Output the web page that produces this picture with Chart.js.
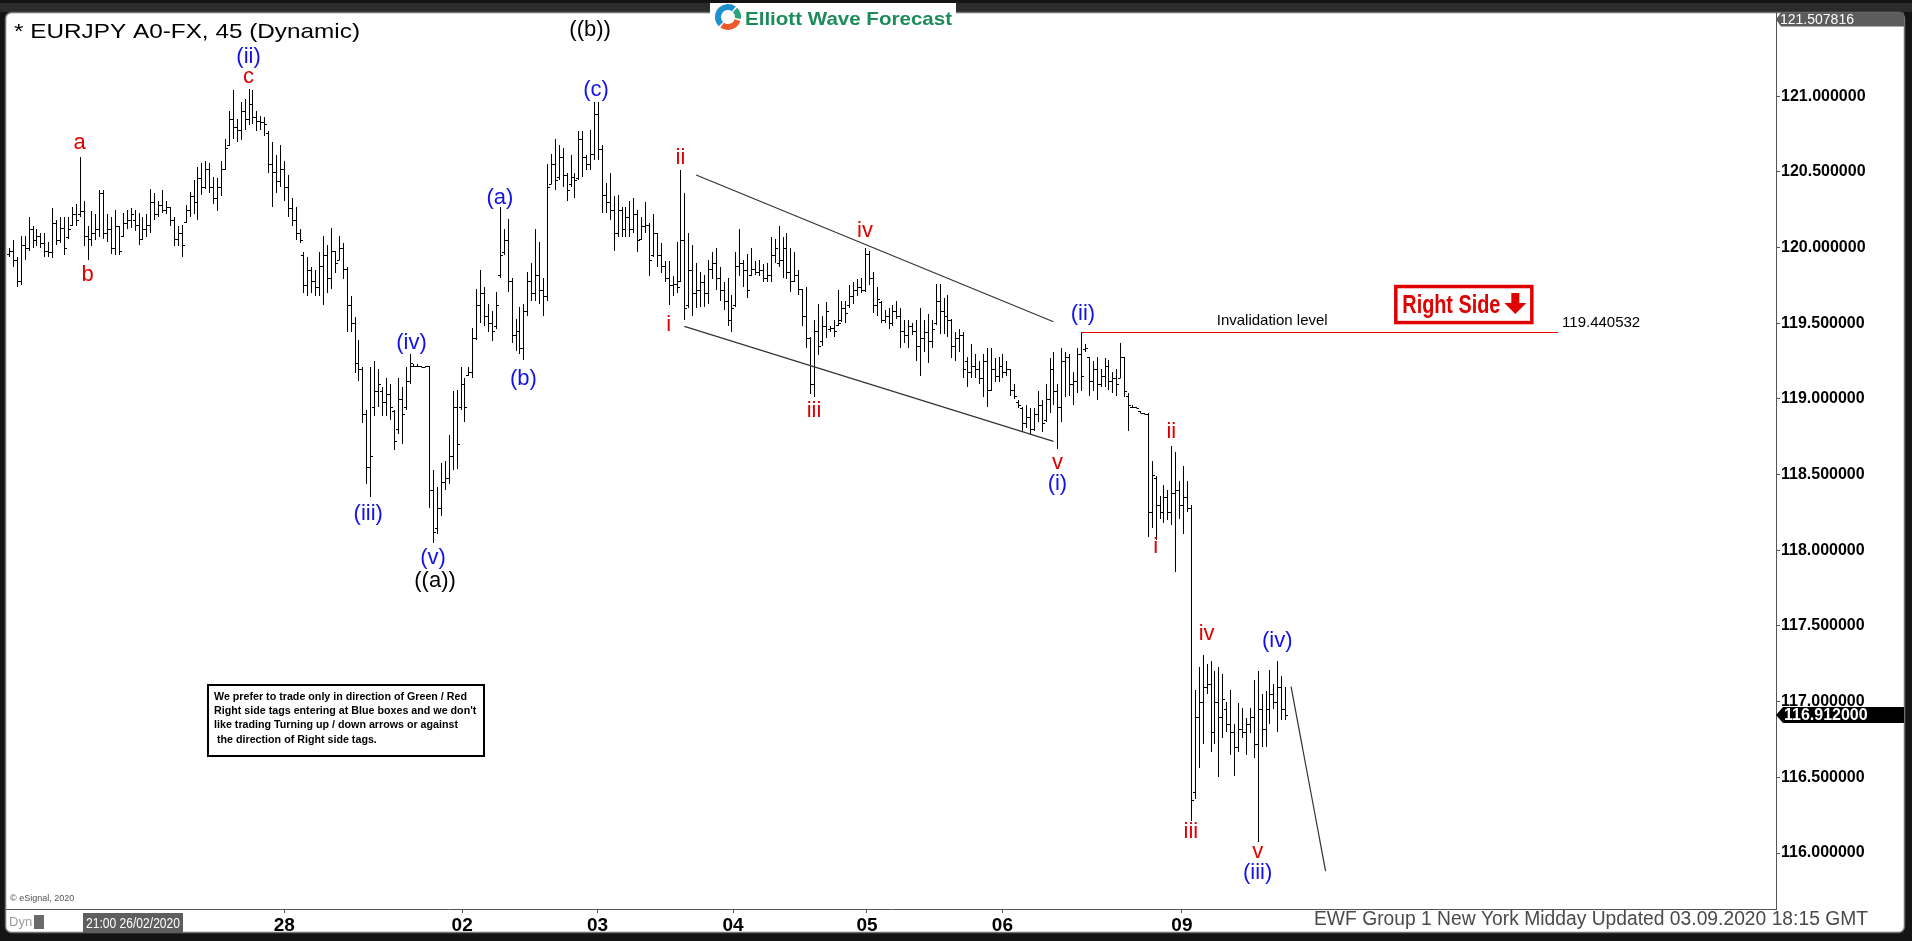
<!DOCTYPE html>
<html>
<head>
<meta charset="utf-8">
<title>EURJPY A0-FX, 45 (Dynamic)</title>
<script src="https://cdn.jsdelivr.net/npm/chart.js@4.4.1/dist/chart.umd.min.js"></script>
<style>
  html, body { margin: 0; padding: 0; background: #141414; overflow: hidden; }
  #wrap { position: relative; width: 1912px; height: 941px; }
</style>
</head>
<body>
<div id="wrap"><canvas id="chart"></canvas></div>
<script>
// 45 minute bars (one entry per bar)
const highs = [
  120.00,120.05,119.94,120.08,120.08,120.20,120.14,120.12,120.10,120.10,
  120.04,120.26,120.18,120.20,120.20,120.20,120.27,120.29,120.60,120.31,
  120.14,120.24,120.22,120.38,120.38,120.22,120.20,120.25,120.14,120.23,
  120.25,120.26,120.25,120.23,120.20,120.22,120.39,120.36,120.31,120.38,120.31,
  120.27,120.20,120.14,120.15,120.28,120.37,120.45,120.53,120.56,120.57,
  120.56,120.47,120.46,120.57,120.72,120.90,121.04,120.85,120.96,120.98,
  121.05,121.04,120.90,120.87,120.86,120.77,120.70,120.61,120.68,120.57,
  120.48,120.33,120.27,120.12,119.97,119.94,119.87,119.85,119.97,120.08,
  120.02,120.13,119.98,120.08,120.03,119.87,119.68,119.54,119.39,119.21,
  118.93,119.21,119.25,119.20,119.08,119.14,119.10,118.93,119.14,119.08,119.21,
  119.30,119.23,119.23,119.22,119.22,119.22,118.53,118.42,118.58,118.59,
  118.76,119.05,119.06,119.21,119.14,119.21,119.47,119.73,119.85,119.74,
  119.63,119.58,119.71,120.27,120.12,120.19,119.80,119.53,119.61,119.63,
  119.84,119.90,120.12,120.04,119.80,120.55,120.62,120.72,120.68,120.66,
  120.49,120.61,120.49,120.77,120.77,120.61,120.78,120.96,120.96,120.68,
  120.43,120.49,120.34,120.35,120.27,120.27,120.31,120.33,120.25,120.20,
  120.30,120.16,120.22,120.10,120.03,119.91,119.91,119.81,120.04,120.51,
  120.36,120.10,120.02,119.90,119.84,119.82,119.92,119.97,120.00,119.87,
  119.77,119.80,119.69,119.97,120.12,119.92,119.96,120.00,119.91,119.92,
  119.89,119.90,120.07,120.06,120.14,120.07,120.10,120.00,119.97,
  119.85,119.73,119.74,119.41,119.52,119.63,119.55,119.64,119.48,119.52,
  119.72,119.65,119.65,119.75,119.77,119.79,119.80,120.00,119.98,119.84,
  119.74,119.65,119.59,119.60,119.62,119.65,119.60,119.52,119.52,119.50,
  119.52,119.60,119.52,119.56,119.52,119.76,119.76,119.67,119.69,119.53,
  119.44,119.46,119.44,119.28,119.36,119.30,119.25,119.30,119.34,
  119.34,119.27,119.28,119.30,119.25,119.20,119.10,118.99,118.95,118.96,
  118.94,118.94,119.05,118.99,119.10,119.27,119.31,119.10,119.34,119.31,
  119.30,119.18,119.34,119.44,119.36,119.28,119.25,119.28,119.20,119.27,
  119.26,119.18,119.20,119.37,119.28,119.04,118.96,118.95,118.92,118.91,
  118.91,118.59,118.49,118.36,118.43,118.40,118.69,118.65,118.46,118.56,
  118.46,118.30,117.08,117.23,117.31,117.25,117.27,117.20,117.23,117.18,
  117.00,117.08,116.85,116.99,116.96,116.89,116.96,117.14,117.20,117.05,
  117.07,117.21,117.12,117.27,117.17,117.10
];
const lows = [
  119.94,119.87,119.74,119.75,119.92,119.98,120.00,120.01,120.00,119.94,
  119.94,119.93,120.02,120.03,119.95,120.06,120.14,120.14,120.20,120.01,
  119.92,120.01,120.05,120.07,120.06,120.04,119.96,119.95,119.95,120.07,
  120.12,120.13,120.11,120.02,120.05,120.07,120.10,120.18,120.20,120.23,120.22,
  120.14,120.01,120.01,119.94,120.16,120.20,120.22,120.18,120.35,120.39,
  120.36,120.29,120.24,120.34,120.51,120.67,120.72,120.70,120.71,120.78,
  120.81,120.82,120.77,120.78,120.74,120.49,120.27,120.36,120.40,120.31,
  120.20,120.14,120.05,120.03,119.70,119.68,119.70,119.68,119.68,119.62,
  119.70,119.73,119.83,119.92,119.79,119.44,119.44,119.17,119.12,118.84,
  118.44,118.35,118.89,118.95,118.89,118.89,118.86,118.66,118.77,118.70,118.93,
  119.10,119.21,119.21,119.21,119.21,118.28,118.05,118.11,118.23,118.40,
  118.44,118.53,118.54,118.93,118.85,119.15,119.14,119.39,119.50,119.48,
  119.44,119.38,119.46,119.80,119.95,119.71,119.37,119.32,119.30,119.26,
  119.55,119.65,119.65,119.63,119.55,119.65,120.42,120.38,120.45,120.40,
  120.31,120.40,120.33,120.45,120.47,120.51,120.51,120.58,120.58,120.23,
  120.23,120.18,119.98,120.07,120.07,120.07,120.07,120.10,119.97,120.05,
  120.10,119.81,119.94,119.87,119.83,119.77,119.62,119.68,119.70,119.77,
  119.52,119.60,119.55,119.60,119.61,119.61,119.63,119.79,119.72,119.65,
  119.59,119.48,119.44,119.61,119.81,119.74,119.67,119.81,119.82,119.81,
  119.77,119.77,119.77,119.90,119.87,119.80,119.79,119.71,119.77,
  119.69,119.48,119.34,119.03,119.01,119.29,119.35,119.40,119.44,119.41,
  119.48,119.51,119.50,119.60,119.63,119.68,119.70,119.71,119.75,119.57,
  119.55,119.50,119.50,119.46,119.48,119.53,119.34,119.37,119.34,119.42,
  119.25,119.15,119.31,119.24,119.34,119.49,119.43,119.43,119.41,119.27,
  119.25,119.31,119.14,119.08,119.14,119.14,119.10,119.01,118.95,
  119.05,119.11,119.11,119.14,119.15,119.02,119.00,118.94,118.79,118.81,
  118.76,118.79,118.85,118.78,118.85,118.91,118.96,118.67,118.85,119.01,
  119.02,118.96,119.04,119.05,119.31,119.02,119.05,118.99,119.08,119.08,
  119.06,119.04,119.02,119.14,119.01,118.79,118.94,118.94,118.91,118.90,
  118.09,118.15,118.07,118.21,118.18,118.20,118.17,117.86,118.21,118.11,
  118.25,116.21,116.36,116.56,116.72,117.05,116.67,116.72,116.50,116.76,
  116.80,116.65,116.51,116.67,116.76,116.65,116.79,116.63,116.07,116.70,
  116.70,116.85,116.95,116.80,116.88,116.88
];
const opens = [
  119.96,119.98,119.92,119.78,120.02,120.00,120.12,120.05,120.08,120.03,
  119.98,119.97,120.16,120.05,120.13,120.07,120.15,120.22,120.22,120.24,
  120.08,120.06,120.10,120.12,120.36,120.10,120.12,120.00,120.14,120.08,
  120.16,120.18,120.18,120.15,120.06,120.12,120.15,120.30,120.22,120.28,120.25,
  120.27,120.18,120.06,120.10,120.17,120.25,120.34,120.30,120.46,120.40,
  120.52,120.40,120.33,120.40,120.52,120.68,120.85,120.80,120.78,120.90,
  120.85,120.95,120.86,120.84,120.83,120.76,120.55,120.50,120.44,120.52,
  120.40,120.26,120.18,120.10,119.95,119.75,119.85,119.78,119.74,119.88,
  119.95,119.80,119.98,119.92,120.00,119.86,119.62,119.50,119.24,119.20,
  118.90,118.55,118.95,119.05,119.05,118.98,119.03,118.92,118.80,119.00,118.95,
  119.12,119.22,119.22,119.22,119.21,119.22,118.40,118.15,118.28,118.45,
  118.48,118.62,118.95,118.95,119.10,119.16,119.18,119.40,119.62,119.70,
  119.55,119.50,119.48,119.82,119.97,120.05,119.78,119.42,119.45,119.34,
  119.58,119.78,119.70,119.82,119.72,119.68,120.42,120.55,120.47,120.60,
  120.48,120.42,120.47,120.46,120.72,120.60,120.55,120.62,120.88,120.65,
  120.35,120.30,120.25,120.10,120.25,120.12,120.20,120.12,120.22,120.06,
  120.14,120.15,119.95,120.10,119.95,119.88,119.80,119.75,119.76,119.78,
  120.05,119.62,119.85,119.70,119.72,119.77,119.70,119.86,119.90,119.80,
  119.72,119.65,119.52,119.62,119.88,119.90,119.85,119.82,119.86,119.84,
  119.85,119.80,119.82,119.95,119.90,119.92,120.00,119.84,119.78,
  119.82,119.73,119.55,119.40,119.10,119.45,119.38,119.48,119.46,119.47,
  119.49,119.52,119.60,119.62,119.68,119.72,119.74,119.72,119.96,119.80,
  119.62,119.64,119.52,119.55,119.50,119.58,119.55,119.45,119.42,119.48,
  119.45,119.35,119.40,119.44,119.38,119.50,119.65,119.58,119.55,119.52,
  119.35,119.40,119.42,119.25,119.18,119.22,119.20,119.14,119.25,
  119.06,119.20,119.15,119.22,119.18,119.20,119.06,118.98,118.94,118.84,
  118.88,118.80,118.90,118.96,118.86,119.00,119.20,119.05,118.95,119.25,
  119.28,119.10,119.12,119.30,119.33,119.28,119.12,119.20,119.10,119.15,
  119.22,119.12,119.14,119.14,119.28,119.02,118.95,118.95,118.92,118.91,
  118.90,118.25,118.48,118.30,118.25,118.35,118.25,118.38,118.40,118.30,
  118.35,118.28,116.40,116.90,117.00,117.10,117.12,116.80,117.00,116.90,
  116.95,116.85,116.80,116.70,116.82,116.80,116.85,116.90,116.72,116.95,
  116.82,116.95,117.05,117.00,117.10,116.95
];
const closes = [
  119.98,119.92,119.78,120.02,120.00,120.12,120.05,120.08,120.03,119.98,
  119.97,120.16,120.05,120.13,120.00,120.12,120.22,120.18,120.24,120.08,
  120.06,120.10,120.12,120.36,120.10,120.12,120.00,120.14,119.98,120.16,
  120.18,120.22,120.15,120.06,120.12,120.15,120.30,120.22,120.28,120.25,120.27,
  120.18,120.06,120.10,120.02,120.25,120.34,120.30,120.46,120.40,120.52,
  120.40,120.33,120.40,120.52,120.66,120.85,120.80,120.78,120.90,120.85,
  120.95,120.86,120.84,120.83,120.82,120.55,120.50,120.44,120.52,120.40,
  120.26,120.18,120.10,120.05,119.75,119.85,119.78,119.74,119.88,119.95,
  119.80,119.98,119.90,120.00,119.86,119.62,119.50,119.24,119.20,118.90,
  118.55,118.62,119.05,119.10,118.98,119.03,118.95,118.72,119.00,118.90,119.12,
  119.24,119.22,119.22,119.21,119.22,118.40,118.12,118.28,118.45,118.48,
  118.62,118.95,118.70,119.10,118.95,119.18,119.40,119.62,119.70,119.55,
  119.50,119.45,119.62,119.95,120.05,119.78,119.42,119.45,119.34,119.58,
  119.78,119.70,119.82,119.72,119.68,120.40,120.55,120.45,120.60,120.48,
  120.38,120.47,120.45,120.72,120.60,120.55,120.62,120.88,120.65,120.35,
  120.30,120.25,120.10,120.25,120.12,120.20,120.12,120.22,120.05,120.14,
  120.15,119.92,120.10,119.95,119.88,119.80,119.75,119.76,119.74,120.05,
  119.60,119.85,119.70,119.72,119.77,119.70,119.86,119.90,119.80,119.72,
  119.65,119.52,119.60,119.88,119.90,119.85,119.72,119.86,119.84,119.85,
  119.80,119.82,119.95,120.00,119.92,120.00,119.84,119.78,119.82,
  119.73,119.55,119.40,119.10,119.45,119.35,119.48,119.58,119.47,119.45,
  119.50,119.60,119.57,119.68,119.72,119.74,119.72,119.96,119.80,119.62,
  119.66,119.52,119.55,119.50,119.58,119.55,119.45,119.42,119.48,119.45,
  119.35,119.40,119.44,119.38,119.46,119.65,119.58,119.55,119.52,119.35,
  119.40,119.42,119.20,119.18,119.22,119.20,119.14,119.25,119.06,
  119.20,119.15,119.22,119.18,119.20,119.06,119.02,118.96,118.84,118.88,
  118.80,118.90,118.96,118.84,119.00,119.20,119.05,118.95,119.25,119.28,
  119.10,119.12,119.30,119.15,119.34,119.12,119.20,119.10,119.15,119.22,
  119.12,119.14,119.10,119.28,119.05,118.96,118.95,118.94,118.91,118.90,
  118.25,118.50,118.30,118.25,118.35,118.25,118.38,118.40,118.30,118.35,
  118.28,116.35,116.90,117.00,117.10,117.12,116.80,117.00,116.90,117.02,
  116.85,116.80,116.70,116.82,116.80,116.85,116.90,116.72,116.95,116.82,
  116.95,117.05,117.00,117.10,116.95,116.91
];

// axis ticks (bar index of each day label)
const dayTicks = [70.1, 115.4, 149.9, 184.4, 218.5, 253.0, 298.7];
const dayLabels = ['28', '02', '03', '04', '05', '06', '09'];
const priceTicks = [116, 116.5, 117, 117.5, 118, 118.5, 119, 119.5, 120, 120.5, 121];

// Elliott wave labels: text, bar index, price, degree
const waveLabels = [
  ['a', 18, 120.69, 'minute'], ['b', 20, 119.82, 'minute'], ['c', 61, 121.13, 'minute'],
  ['(ii)', 61, 121.26, 'minor'], ['(iii)', 91.5, 118.24, 'minor'], ['(iv)', 102.5, 119.37, 'minor'],
  ['(v)', 108, 117.95, 'minor'], ['((a))', 108.5, 117.80, 'inter'],
  ['(a)', 125, 120.33, 'minor'], ['(b)', 131, 119.13, 'minor'], ['(c)', 149.5, 121.04, 'minor'],
  ['((b))', 148, 121.44, 'inter'],
  ['i', 168, 119.49, 'minute'], ['ii', 171, 120.59, 'minute'], ['iii', 205, 118.92, 'minute'],
  ['iv', 218, 120.11, 'minute'], ['v', 267, 118.58, 'minute'], ['(i)', 267, 118.44, 'minor'],
  ['(ii)', 273.5, 119.56, 'minor'],
  ['i', 292, 118.02, 'minute'], ['ii', 296, 118.78, 'minute'], ['iii', 301, 116.14, 'minute'],
  ['iv', 305, 117.45, 'minute'], ['v', 318, 116.01, 'minute'], ['(iii)', 318, 115.87, 'minor'],
  ['(iv)', 323, 117.40, 'minor']
];

// drawn lines in bar index / price
const channelUpper = [[175, 120.48], [266, 119.51]];
const channelLower = [[172, 119.48], [266, 118.72]];
const projection = [[326.5, 117.10], [335.3, 115.88]];
const invalidation = 119.440532;
const invalidationFrom = 273;
const invalidationTo = 394.5;
const topPrice = 121.507816;
const lastPrice = 116.912;

const degreeColor = { minute: '#e00000', minor: '#1212e6', inter: '#000000' };
const SANS = '"Liberation Sans", Arial, sans-serif';
const NARROW = '"Liberation Sans Narrow", "Arial Narrow", "Liberation Sans", sans-serif';

function fitText(ctx, str, x, y, font, width) {
  ctx.font = font;
  const w = ctx.measureText(str).width;
  ctx.save();
  ctx.translate(x, y);
  ctx.scale(width / w, 1);
  ctx.fillText(str, 0, 0);
  ctx.restore();
}

const panel = {
  id: 'panel',
  beforeDraw(chart) {
    const ctx = chart.ctx;
    ctx.save();
    ctx.fillStyle = '#141414';
    ctx.fillRect(0, 0, chart.width, chart.height);
    ctx.fillStyle = '#2b2b2b';
    ctx.fillRect(0, 3, chart.width, 9);
    ctx.fillStyle = '#fff';
    ctx.strokeStyle = '#707070';
    ctx.lineWidth = 1.5;
    ctx.beginPath();
    ctx.roundRect(5.5, 12.5, 1899, 920, 6);
    ctx.fill();
    ctx.stroke();
    ctx.restore();
  }
};

const ohlcBars = {
  id: 'ohlcBars',
  afterDatasetsDraw(chart) {
    const { ctx, chartArea: a, scales: { x, y } } = chart;
    ctx.save();
    ctx.beginPath();
    ctx.rect(a.left, a.top, a.right - a.left, a.bottom - a.top);
    ctx.clip();
    ctx.strokeStyle = '#000';
    ctx.lineWidth = 1;
    ctx.beginPath();
    highs.forEach((h, i) => {
      const px = Math.round(x.getPixelForValue(i)) + 0.5;
      const top = Math.round(y.getPixelForValue(h));
      let bot = Math.round(y.getPixelForValue(lows[i]));
      if (bot - top < 1) bot = top + 1;
      ctx.moveTo(px, top);
      ctx.lineTo(px, bot);
      const yo = Math.round(y.getPixelForValue(opens[i])) + 0.5;
      const yc = Math.round(y.getPixelForValue(closes[i])) + 0.5;
      ctx.moveTo(px - 2.5, yo);
      ctx.lineTo(px, yo);
      ctx.moveTo(px, yc);
      ctx.lineTo(px + 2.5, yc);
    });
    ctx.stroke();
    ctx.restore();
  }
};

const overlay = {
  id: 'overlay',
  afterDraw(chart) {
    const { ctx, chartArea: a, scales: { x, y } } = chart;
    const X = v => x.getPixelForValue(v);
    const Y = v => y.getPixelForValue(v);
    ctx.save();

    // trend channel and projection
    ctx.strokeStyle = '#333';
    ctx.lineWidth = 1.2;
    [channelUpper, channelLower, projection].forEach(seg => {
      ctx.beginPath();
      ctx.moveTo(X(seg[0][0]), Y(seg[0][1]));
      ctx.lineTo(X(seg[1][0]), Y(seg[1][1]));
      ctx.stroke();
    });

    // invalidation level
    const iy = Math.round(Y(invalidation)) + 0.5;
    ctx.strokeStyle = '#e00000';
    ctx.lineWidth = 1;
    ctx.beginPath();
    ctx.moveTo(X(invalidationFrom), iy);
    ctx.lineTo(X(invalidationTo), iy);
    ctx.stroke();
    ctx.fillStyle = '#000';
    ctx.textBaseline = 'middle';
    ctx.textAlign = 'center';
    ctx.font = '15px ' + SANS;
    ctx.fillText('Invalidation level', X(321.7), iy - 12);
    ctx.textAlign = 'left';
    ctx.fillText(invalidation.toFixed(6), X(invalidationTo) + 4, iy - 10);

    // Right Side tag
    const bl = X(352.8), br = X(388.2), bt = Y(119.753), bb = Y(119.495);
    ctx.fillStyle = '#fff';
    ctx.fillRect(bl, bt, br - bl, bb - bt);
    ctx.strokeStyle = '#e00000';
    ctx.lineWidth = 3.5;
    ctx.strokeRect(bl + 1.5, bt + 1.5, br - bl - 3, bb - bt - 3);
    ctx.fillStyle = '#e00000';
    ctx.textAlign = 'left';
    ctx.textBaseline = 'alphabetic';
    fitText(ctx, 'Right Side', bl + 8, bb - 11, 'bold 25px ' + NARROW, 98);
    const ax = bl + 121, ay = bt + 8;
    ctx.fillRect(ax - 4, ay, 8, 11);
    ctx.beginPath();
    ctx.moveTo(ax - 11, ay + 10);
    ctx.lineTo(ax + 11, ay + 10);
    ctx.lineTo(ax, ay + 21);
    ctx.closePath();
    ctx.fill();

    // wave labels
    ctx.font = '22px ' + SANS;
    ctx.textAlign = 'center';
    ctx.textBaseline = 'middle';
    waveLabels.forEach(([t, i, p, d]) => {
      ctx.fillStyle = degreeColor[d];
      ctx.fillText(t, X(i), Y(p));
    });

    // title
    ctx.fillStyle = '#000';
    ctx.textAlign = 'left';
    ctx.textBaseline = 'alphabetic';
    fitText(ctx, '* EURJPY A0-FX, 45 (Dynamic)', 14, 38, '21px ' + SANS, 346);

    // logo
    ctx.fillStyle = '#fff';
    ctx.fillRect(710, 3, 246, 29);
    ctx.lineWidth = 6;
    ctx.strokeStyle = '#1f8fd0';
    ctx.beginPath();
    ctx.arc(728, 17, 10, Math.PI * 0.75, Math.PI * 1.7);
    ctx.stroke();
    ctx.strokeStyle = '#2aa37a';
    ctx.beginPath();
    ctx.arc(728, 17, 10, Math.PI * 1.75, Math.PI * 2.05);
    ctx.stroke();
    ctx.strokeStyle = '#ea5a2a';
    ctx.beginPath();
    ctx.arc(728, 17, 10, Math.PI * 0.1, Math.PI * 0.7);
    ctx.stroke();
    ctx.fillStyle = '#1e8c5a';
    fitText(ctx, 'Elliott Wave Forecast', 745, 25, 'bold 19px ' + SANS, 207);

    // note box
    ctx.fillStyle = '#fff';
    ctx.fillRect(208, 685, 276, 71);
    ctx.strokeStyle = '#000';
    ctx.lineWidth = 2;
    ctx.strokeRect(208, 685, 276, 71);
    ctx.fillStyle = '#000';
    ctx.font = 'bold 11px ' + SANS;
    const noteLines = [
      'We prefer to trade only in direction of Green / Red',
      'Right side tags entering at Blue boxes and we don\'t',
      'like trading Turning up / down arrows or against',
      ' the direction of Right side tags.'
    ];
    const k = 253 / ctx.measureText(noteLines[0]).width;
    noteLines.forEach((line, n) => {
      ctx.save();
      ctx.translate(214, 700 + n * 14.2);
      ctx.scale(k, 1);
      ctx.fillText(line, 0, 0);
      ctx.restore();
    });

    // price markers on the axis
    const r = a.right;
    const ty = Y(topPrice);
    ctx.fillStyle = '#5c5c5c';
    ctx.beginPath();
    ctx.moveTo(r, ty);
    ctx.lineTo(r + 5, ty - 7);
    ctx.lineTo(1904, ty - 7);
    ctx.lineTo(1904, ty + 7);
    ctx.lineTo(r + 5, ty + 7);
    ctx.closePath();
    ctx.fill();
    ctx.fillStyle = '#fff';
    ctx.font = '14px ' + SANS;
    ctx.textBaseline = 'middle';
    ctx.fillText(topPrice.toFixed(6), r + 4, ty + 1);

    const ly = Y(lastPrice);
    ctx.fillStyle = '#000';
    ctx.beginPath();
    ctx.moveTo(r, ly);
    ctx.lineTo(r + 7, ly - 8);
    ctx.lineTo(1904, ly - 8);
    ctx.lineTo(1904, ly + 8);
    ctx.lineTo(r + 7, ly + 8);
    ctx.closePath();
    ctx.fill();
    ctx.fillStyle = '#fff';
    ctx.font = 'bold 16px ' + SANS;
    ctx.fillText(lastPrice.toFixed(6), r + 8, ly + 1);

    // footer
    ctx.fillStyle = '#555';
    ctx.font = '9px ' + SANS;
    ctx.textBaseline = 'middle';
    ctx.fillText('\u00a9 eSignal, 2020', 10, 899);
    ctx.fillStyle = '#9a9a9a';
    ctx.font = '13px ' + NARROW;
    ctx.fillText('Dyn', 9, 922);
    ctx.fillStyle = '#6a6a6a';
    ctx.fillRect(34, 915, 10, 14);
    ctx.fillStyle = '#5e5e5e';
    ctx.fillRect(83, 913, 100, 20);
    ctx.fillStyle = '#fff';
    fitText(ctx, '21:00 26/02/2020', 86, 924, '14px ' + NARROW, 94);
    ctx.fillStyle = '#4a4a4a';
    fitText(ctx, 'EWF Group 1 New York Midday Updated 03.09.2020 18:15 GMT', 1314, 919, '20px ' + SANS, 554);

    ctx.restore();
  }
};

new Chart(document.getElementById('chart'), {
  type: 'line',
  data: {
    datasets: [{
      label: 'EURJPY',
      data: closes.map((c, i) => ({ x: i, y: c })),
      showLine: false,
      pointRadius: 0
    }]
  },
  options: {
    responsive: true,
    maintainAspectRatio: false,
    animation: false,
    devicePixelRatio: 1,
    events: [],
    layout: { padding: { left: 6, top: 12, right: 7, bottom: 8 } },
    plugins: { legend: { display: false }, tooltip: { enabled: false } },
    scales: {
      x: {
        type: 'linear',
        min: -0.76,
        max: 450,
        afterBuildTicks: s => { s.ticks = dayTicks.map(v => ({ value: v })); },
        afterFit: s => { s.height = 24; },
        ticks: {
          autoSkip: false,
          maxRotation: 0,
          padding: 1,
          color: '#000',
          font: { family: NARROW, size: 19, weight: 'bold' },
          callback: (v, i) => dayLabels[i]
        },
        grid: { drawOnChartArea: false, tickLength: 4, color: '#555' },
        border: { color: '#555' }
      },
      y: {
        type: 'linear',
        position: 'right',
        min: 115.63,
        max: 121.557,
        afterBuildTicks: s => { s.ticks = priceTicks.map(v => ({ value: v })); },
        afterFit: s => { s.width = 129; },
        ticks: {
          padding: 1,
          color: '#000',
          font: { family: SANS, size: 16, weight: 'bold' },
          callback: v => v.toFixed(6)
        },
        grid: { drawOnChartArea: false, tickLength: 4, color: '#555' },
        border: { color: '#555' }
      }
    }
  },
  plugins: [panel, ohlcBars, overlay]
});
</script>
</body>
</html>
